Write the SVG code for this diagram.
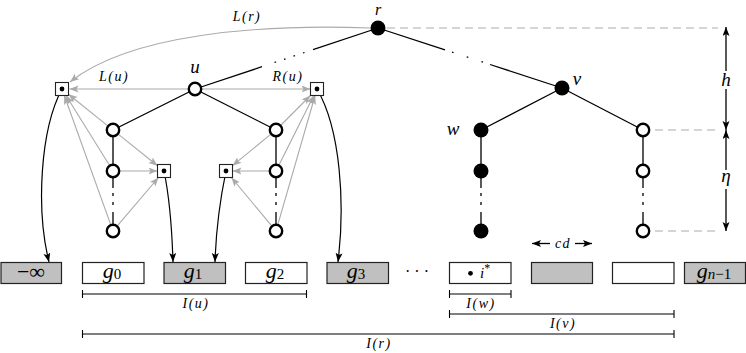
<svg xmlns="http://www.w3.org/2000/svg" width="746" height="353" viewBox="0 0 746 353">
<defs>
<marker id="ab" markerUnits="userSpaceOnUse" markerWidth="10" markerHeight="8" viewBox="0 0 10 8" refX="9" refY="3.5" orient="auto-start-reverse"><path d="M0,0 L9,3.5 L0,7 L2,3.5 z" fill="#000"/></marker>
<marker id="ag" markerUnits="userSpaceOnUse" markerWidth="10" markerHeight="8" viewBox="0 0 10 8" refX="9" refY="3.5" orient="auto"><path d="M0,0 L9,3.5 L0,7 L2,3.5 z" fill="#aaa"/></marker>
</defs>
<style>
.t{font-family:"Liberation Serif","Times New Roman",serif;font-style:italic;fill:#000}
.n{font-style:normal}
.lb{font-size:14px;letter-spacing:1.5px}
.nl{font-size:19px}
.bt{font-size:22px}
.e{stroke:#000;stroke-width:1.3;fill:none}
.g{stroke:#aaa;stroke-width:1.1;fill:none;marker-end:url(#ag)}
.k{stroke:#000;stroke-width:1.2;fill:none;marker-end:url(#ab)}
.o{fill:#fff;stroke:#000;stroke-width:2.4}
.f{fill:#000}
.sq{fill:#fff;stroke:#222;stroke-width:1.1}
.bx{stroke:#222;stroke-width:1.2}
.gy{fill:#c0c0c0}
.wh{fill:#fff}
.dash{stroke:#c8c8c8;stroke-width:1.3;stroke-dasharray:8 5;fill:none}
.iv{stroke:#000;stroke-width:1.1;fill:none}
</style>
<rect width="746" height="353" fill="#fff"/>

<g id="connectors">
  <!-- tree edges -->
  <line class="e" x1="378" y1="28" x2="313" y2="49.7"/>
  <line class="e" x1="304.5" y1="52.5" x2="274.5" y2="62.5" stroke-dasharray="1.6 8.4"/>
  <line class="e" x1="262" y1="66.7" x2="195" y2="89"/>
  <line class="e" x1="378" y1="28" x2="445" y2="49.8"/>
  <line class="e" x1="452" y1="52.1" x2="483" y2="62.2" stroke-dasharray="1.6 13.9"/>
  <line class="e" x1="490" y1="64.5" x2="562" y2="88"/>
  <line class="e" x1="195" y1="89" x2="113" y2="130"/>
  <line class="e" x1="195" y1="89" x2="276" y2="130"/>
  <line class="e" x1="562" y1="88" x2="481" y2="130"/>
  <line class="e" x1="562" y1="88" x2="643" y2="130"/>
  <path class="e" d="M113 130V188M113 193V196M113 202V205M113 212V231"/>
  <path class="e" d="M276 130V188M276 193V196M276 202V205M276 212V231"/>
  <path class="e" d="M481 130V188M481 193V196M481 202V205M481 212V231"/>
  <path class="e" d="M643 130V188M643 193V196M643 202V205M643 212V231"/>

  <!-- grey pointer arrows -->
  <path class="g" d="M370 28C260 24 130 34 70 82"/>
  <line class="g" x1="188" y1="89" x2="69.5" y2="89"/>
  <line class="g" x1="202" y1="89" x2="310.5" y2="89"/>
  <line class="g" x1="107.5" y1="125.6" x2="68.5" y2="94.2"/>
  <line class="g" x1="109.3" y1="165" x2="66" y2="95.5"/>
  <line class="g" x1="110.6" y1="224.4" x2="64.3" y2="95.5"/>
  <line class="g" x1="118.5" y1="134.4" x2="157.5" y2="165.8"/>
  <line class="g" x1="120" y1="171" x2="157.5" y2="171"/>
  <line class="g" x1="117.5" y1="225.7" x2="158.5" y2="177.5"/>
  <line class="g" x1="281" y1="125" x2="310.5" y2="95.5"/>
  <line class="g" x1="279.1" y1="164.7" x2="313.8" y2="95.5"/>
  <line class="g" x1="277.9" y1="224.3" x2="315.1" y2="95.5"/>
  <line class="g" x1="270.6" y1="134.4" x2="232.5" y2="165.7"/>
  <line class="g" x1="269" y1="171" x2="232.5" y2="171"/>
  <line class="g" x1="271.5" y1="225.6" x2="231.4" y2="177.5"/>

  <!-- black pointer arrows to array -->
  <path class="k" d="M62 89C40 130 36 210 49 262"/>
  <path class="k" d="M317 89C341 130 345 205 338 262"/>
  <path class="k" d="M164 171C170 200 172 230 173 262"/>
  <path class="k" d="M226 171C220 200 216 230 215 262"/>

  <!-- dashed guides -->
  <line class="dash" x1="387" y1="28" x2="718" y2="28"/>
  <line class="dash" x1="655" y1="130" x2="718" y2="130"/>
  <line class="dash" x1="655" y1="231" x2="718" y2="231"/>

  <!-- dimension arrows -->
  <line class="e" x1="726" y1="27" x2="726" y2="71" marker-start="url(#ab)"/>
  <line class="e" x1="726" y1="89" x2="726" y2="130" marker-end="url(#ab)"/>
  <line class="e" x1="726" y1="130" x2="726" y2="170" marker-start="url(#ab)"/>
  <line class="e" x1="726" y1="189" x2="726" y2="231" marker-end="url(#ab)"/>

  <!-- cd -->
  <line class="e" x1="532" y1="243.5" x2="550" y2="243.5" marker-start="url(#ab)"/>
  <line class="e" x1="575" y1="243.5" x2="592" y2="243.5" marker-end="url(#ab)"/>

  <!-- intervals -->
  <path class="iv" d="M82.5 294H306.5M82.5 290V298M306.5 290V298"/>
  <path class="iv" d="M449.5 294H511M449.5 290V298M511 290V298"/>
  <path class="iv" d="M449.5 314H674M449.5 310V318M674 310V318"/>
  <path class="iv" d="M82.5 334H674M82.5 330V338M674 330V338"/>
</g>

<!-- tree nodes -->
<g id="node-r"><circle class="f" cx="378" cy="28" r="7.5"/><text class="t" font-size="16" x="378" y="14.5" text-anchor="middle">r</text></g>
<g id="node-u"><circle class="o" cx="195" cy="89" r="6.2"/><text class="t nl" x="195" y="73" text-anchor="middle">u</text></g>
<g id="node-v"><circle class="f" cx="562" cy="88" r="7.5"/><text class="t nl" x="577" y="85" text-anchor="middle">v</text></g>
<g id="node-w"><circle class="f" cx="481" cy="130" r="7.5"/><text class="t nl" x="453" y="135" text-anchor="middle">w</text></g>
<g id="node-w1"><circle class="f" cx="481" cy="171" r="7.5"/></g>
<g id="node-w2"><circle class="f" cx="481" cy="231" r="7.5"/></g>
<g id="node-v2"><circle class="o" cx="643" cy="130" r="6.2"/></g>
<g id="node-v21"><circle class="o" cx="643" cy="171" r="6.2"/></g>
<g id="node-v22"><circle class="o" cx="643" cy="231" r="6.2"/></g>
<g id="node-a"><circle class="o" cx="113" cy="130" r="6.2"/></g>
<g id="node-a1"><circle class="o" cx="113" cy="171" r="6.2"/></g>
<g id="node-a2"><circle class="o" cx="113" cy="231" r="6.2"/></g>
<g id="node-b"><circle class="o" cx="276" cy="130" r="6.2"/></g>
<g id="node-b1"><circle class="o" cx="276" cy="171" r="6.2"/></g>
<g id="node-b2"><circle class="o" cx="276" cy="231" r="6.2"/></g>

<!-- pointer squares -->
<g id="sq-Lu"><rect class="sq" x="55.5" y="82.5" width="13" height="13"/><circle class="f" cx="62" cy="89" r="2.4"/></g>
<g id="sq-Ru"><rect class="sq" x="310.5" y="82.5" width="13" height="13"/><circle class="f" cx="317" cy="89" r="2.4"/></g>
<g id="sq-a"><rect class="sq" x="157.5" y="164.5" width="13" height="13"/><circle class="f" cx="164" cy="171" r="2.4"/></g>
<g id="sq-b"><rect class="sq" x="219.5" y="164.5" width="13" height="13"/><circle class="f" cx="226" cy="171" r="2.4"/></g>

<!-- labels -->
<text class="t lb" x="247" y="21" text-anchor="middle">L(r)</text>
<text class="t lb" x="114" y="81" text-anchor="middle">L(u)</text>
<text class="t lb" x="288" y="81" text-anchor="middle">R(u)</text>
<text class="t nl" x="726" y="86" text-anchor="middle">h</text>
<text class="t nl" x="726" y="182" text-anchor="middle">η</text>
<text class="t lb" x="563" y="248" text-anchor="middle">cd</text>
<text class="t lb" x="196" y="308" text-anchor="middle">I(u)</text>
<text class="t lb" x="481" y="308" text-anchor="middle">I(w)</text>
<text class="t lb" x="563" y="328" text-anchor="middle">I(v)</text>
<text class="t lb" x="379" y="348" text-anchor="middle">I(r)</text>

<!-- array boxes -->
<g id="box-minf"><rect class="bx gy" x="1" y="262.5" width="60.5" height="21"/><text class="t bt n" x="31" y="279" text-anchor="middle">−∞</text></g>
<g id="box-g0"><rect class="bx wh" x="82.5" y="262.5" width="61.5" height="21"/><text class="t bt" x="112" y="278" text-anchor="middle">g<tspan class="n" font-size="15" dy="1">0</tspan></text></g>
<g id="box-g1"><rect class="bx gy" x="164" y="262.5" width="61.5" height="21"/><text class="t bt" x="193" y="278" text-anchor="middle">g<tspan class="n" font-size="15" dy="1">1</tspan></text></g>
<g id="box-g2"><rect class="bx wh" x="245.5" y="262.5" width="61.5" height="21"/><text class="t bt" x="275" y="278" text-anchor="middle">g<tspan class="n" font-size="15" dy="1">2</tspan></text></g>
<g id="box-g3"><rect class="bx gy" x="327" y="262.5" width="61.5" height="21"/><text class="t bt" x="356" y="278" text-anchor="middle">g<tspan class="n" font-size="15" dy="1">3</tspan></text></g>
<text class="t n" x="417" y="277" font-size="16" text-anchor="middle">· · ·</text>
<g id="box-istar"><rect class="bx wh" x="449.5" y="262.5" width="61.5" height="21"/><circle class="f" cx="470.5" cy="273.3" r="2.4"/><text class="t" x="480" y="278" font-size="15">i<tspan class="n" font-size="12" dy="-6">*</tspan></text></g>
<g id="box-c1"><rect class="bx gy" x="531.5" y="262.5" width="61" height="21"/></g>
<g id="box-c2"><rect class="bx wh" x="612.5" y="262.5" width="61.5" height="21"/></g>
<g id="box-gn"><rect class="bx gy" x="684.5" y="262.5" width="61" height="21"/><text class="t bt" x="714" y="278" text-anchor="middle">g<tspan font-size="15" dy="1">n</tspan><tspan class="n" font-size="15">−1</tspan></text></g>
</svg>
